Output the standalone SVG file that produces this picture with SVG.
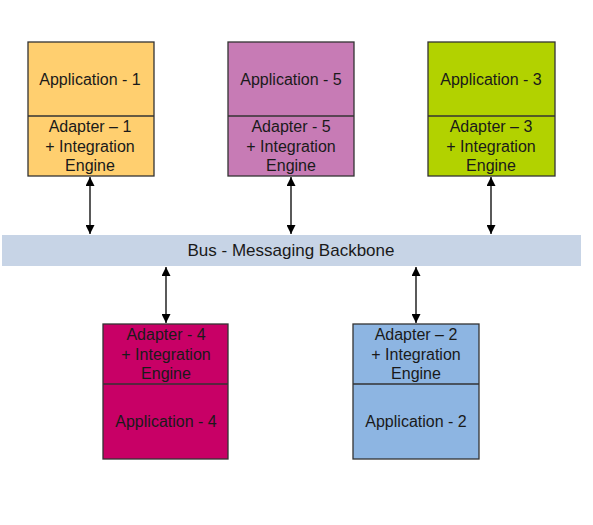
<svg xmlns="http://www.w3.org/2000/svg" width="593" height="525" viewBox="0 0 593 525">
<style>
.box{stroke:#333;stroke-width:1.3}
.div{stroke:#333;stroke-width:1.3}
.t{font-family:"Liberation Sans",Arial,sans-serif;font-size:16px;fill:#1a1a1a;text-anchor:middle}
.b{font-size:17px}
.c{stroke:#000;stroke-width:1.3;fill:none;marker-start:url(#ah);marker-end:url(#ah)}
</style>
<defs>
<marker id="ah" viewBox="0 0 10 10" refX="10" refY="5" markerWidth="11" markerHeight="9" markerUnits="userSpaceOnUse" orient="auto-start-reverse">
<path d="M0,0 L10,5 L0,10 z" fill="#000"/>
</marker>
</defs>
<rect width="593" height="525" fill="#fff"/>
<g id="bus">
<rect x="2" y="235" width="579" height="31" fill="#c7d4e6"/>
<text class="t b" x="291" y="256">Bus - Messaging Backbone</text>
</g>
<g id="node1">
<rect class="box" x="28" y="42" width="126" height="134" fill="#ffcf6f"/>
<line class="div" x1="28" y1="116" x2="154" y2="116"/>
<text class="t" x="90" y="85">Application - 1</text>
<text class="t" x="90" y="132">Adapter – 1</text>
<text class="t" x="90" y="152">+ Integration</text>
<text class="t" x="90" y="171">Engine</text>
</g>
<g id="node5">
<rect class="box" x="228" y="42" width="126" height="134" fill="#c77bb5"/>
<line class="div" x1="228" y1="116" x2="354" y2="116"/>
<text class="t" x="291" y="85">Application - 5</text>
<text class="t" x="291" y="132">Adapter - 5</text>
<text class="t" x="291" y="152">+ Integration</text>
<text class="t" x="291" y="171">Engine</text>
</g>
<g id="node3">
<rect class="box" x="428" y="42" width="127" height="134" fill="#b2d200"/>
<line class="div" x1="428" y1="116" x2="555" y2="116"/>
<text class="t" x="491" y="85">Application - 3</text>
<text class="t" x="491" y="132">Adapter – 3</text>
<text class="t" x="491" y="152">+ Integration</text>
<text class="t" x="491" y="171">Engine</text>
</g>
<g id="node4">
<rect class="box" x="103" y="324" width="125" height="135" fill="#c80066"/>
<line class="div" x1="103" y1="384" x2="228" y2="384"/>
<text class="t" x="166" y="340">Adapter - 4</text>
<text class="t" x="166" y="360">+ Integration</text>
<text class="t" x="166" y="379">Engine</text>
<text class="t" x="166" y="427">Application - 4</text>
</g>
<g id="node2">
<rect class="box" x="353" y="324" width="126" height="135" fill="#8db5e2"/>
<line class="div" x1="353" y1="384" x2="479" y2="384"/>
<text class="t" x="416" y="340">Adapter – 2</text>
<text class="t" x="416" y="360">+ Integration</text>
<text class="t" x="416" y="379">Engine</text>
<text class="t" x="416" y="427">Application - 2</text>
</g>
<g id="connectors">
<line class="c" x1="90" y1="177" x2="90" y2="234"/>
<line class="c" x1="291" y1="177" x2="291" y2="234"/>
<line class="c" x1="491" y1="177" x2="491" y2="234"/>
<line class="c" x1="166" y1="267" x2="166" y2="323"/>
<line class="c" x1="416" y1="267" x2="416" y2="323"/>
</g>
</svg>
